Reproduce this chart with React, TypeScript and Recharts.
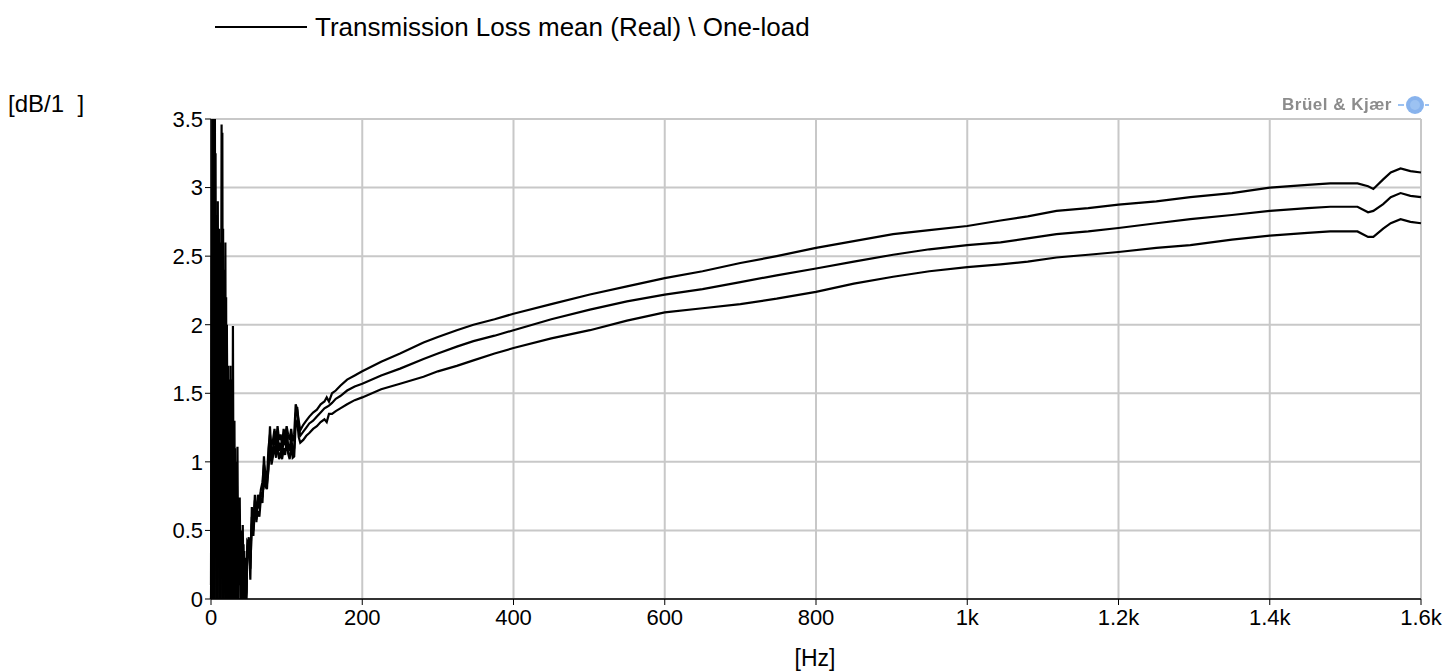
import { LineChart, Line, XAxis, YAxis, CartesianGrid } from "recharts"

const font = "'Liberation Sans', Arial, sans-serif"

// frequency axis [Hz]
const freqs = [
  0, 1, 2, 3, 4, 5, 6, 7, 8, 9, 10, 11, 12, 13, 14, 15, 16, 17, 18, 19, 20, 21, 22, 23, 24,
  25, 26, 27, 28, 29, 30, 31, 32, 33, 34, 35, 36, 37, 38, 39, 40, 41, 42, 43, 44, 45, 46, 47, 48,
  50, 52, 54, 56, 58, 60, 62, 64, 66, 68, 70, 72, 74, 76, 78, 80, 82, 84, 86, 88, 90, 92, 94, 96, 98,
  100, 102, 104, 106, 108, 110, 112, 114, 116, 118,
  122, 126, 130, 135, 140, 145, 150, 153, 156, 160, 165, 171, 180, 190, 200,
  225, 250, 281, 300, 325, 347, 375, 400, 450, 501, 550, 600, 650, 700, 748, 800, 850, 902, 950, 1000,
  1044, 1080, 1118, 1160, 1200, 1250, 1295, 1350, 1400, 1450, 1480, 1516, 1530, 1537, 1550, 1560, 1573, 1586, 1600,
]

// three measured traces [dB/1]
const upper = [
  0.0, 0.9, 4.2, 0.3, 4.0, 1.2, 3.25, 0.0, 2.8, 0.4, 2.6, 0.0, 2.2, 0.8, 3.46, 0.0, 2.7, 0.3, 2.4, 0.0, 1.8, 2.0, 0.1, 1.7, 0.0,
  1.4, 0.4, 1.6, 0.0, 1.99, 0.2, 1.3, 0.0, 0.9, 0.3, 1.11, 0.0, 0.6, 0.74, 0.1, 0.5, 0.0, 0.54, 0.05, 0.35, 0.0, 0.3, 0.0, 0.42,
  0.4, 0.3, 0.6, 0.55, 0.72, 0.62, 0.76, 0.7, 0.8, 0.85, 0.98, 0.92, 0.88, 1.1, 1.2, 1.12, 1.16, 1.24, 1.14, 1.26, 1.16, 1.2, 1.12, 1.24, 1.18,
  1.26, 1.2, 1.16, 1.24, 1.15, 1.2, 1.42, 1.38, 1.3, 1.23,
  1.27, 1.3, 1.33, 1.36, 1.38, 1.42, 1.44, 1.47, 1.44, 1.5, 1.52, 1.555, 1.6, 1.63, 1.66,
  1.73, 1.79, 1.87, 1.91, 1.96, 2.0, 2.04, 2.08, 2.15, 2.22, 2.28, 2.34, 2.39, 2.45, 2.5, 2.56, 2.61, 2.66, 2.69, 2.72,
  2.76, 2.79, 2.83, 2.85, 2.875, 2.9, 2.93, 2.96, 3.0, 3.02, 3.03, 3.03, 3.01, 2.99, 3.06, 3.11, 3.14, 3.12, 3.11,
]

const middle = [
  0.1, 2.5, 0.0, 3.9, 0.2, 4.1, 0.5, 2.6, 0.0, 2.9, 0.6, 2.7, 0.0, 2.5, 0.7, 3.4, 0.0, 2.3, 0.5, 2.6, 0.0, 1.9, 0.6, 0.0, 1.5,
  0.2, 1.7, 0.0, 1.2, 0.5, 1.0, 0.0, 1.1, 0.2, 0.8, 0.0, 0.7, 0.15, 0.6, 0.0, 0.45, 0.2, 0.0, 0.4, 0.0, 0.25, 0.0, 0.15, 0.38,
  0.45, 0.14, 0.67, 0.5, 0.76, 0.56, 0.72, 0.66, 0.78, 0.74, 1.04, 0.86, 0.8, 1.0, 1.26, 1.02, 1.1, 1.2, 1.1, 1.22, 1.08, 1.14, 1.04, 1.18, 1.12,
  1.24, 1.12, 1.08, 1.2, 1.06, 1.1, 1.35, 1.4, 1.25, 1.19,
  1.22, 1.25, 1.28, 1.3, 1.33, 1.36, 1.39, 1.4, 1.41, 1.43, 1.46, 1.48, 1.52, 1.55, 1.57,
  1.63, 1.68, 1.75, 1.79, 1.84, 1.88, 1.92, 1.96, 2.04, 2.11, 2.17, 2.22, 2.26, 2.31, 2.36, 2.41, 2.46, 2.51, 2.55, 2.58,
  2.6, 2.63, 2.66, 2.68, 2.705, 2.74, 2.77, 2.8, 2.83, 2.85, 2.86, 2.86, 2.82, 2.83, 2.88, 2.93, 2.96, 2.94, 2.93,
]

const lower = [
  0.0, 0.2, 3.0, 0.0, 2.7, 0.0, 2.9, 0.8, 2.2, 0.0, 2.4, 1.0, 2.6, 0.0, 2.1, 1.2, 2.5, 0.0, 1.9, 0.7, 2.2, 0.0, 1.5, 0.4, 1.6,
  0.0, 1.3, 0.6, 1.4, 0.0, 1.2, 0.5, 0.8, 0.0, 1.0, 0.4, 0.0, 0.5, 0.2, 0.45, 0.0, 0.35, 0.1, 0.0, 0.2, 0.1, 0.0, 0.05, 0.35,
  0.36, 0.22, 0.55, 0.46, 0.66, 0.58, 0.64, 0.6, 0.74, 0.7, 0.92, 0.82, 0.84, 0.94, 1.14, 0.98, 1.04, 1.12, 1.03, 1.14, 1.02, 1.06, 1.02, 1.1, 1.05,
  1.16, 1.06, 1.02, 1.12, 1.03, 1.04, 1.28, 1.3, 1.18, 1.14,
  1.16, 1.19, 1.21, 1.24, 1.26, 1.29, 1.31, 1.29, 1.35, 1.35, 1.37, 1.39, 1.42, 1.45, 1.47,
  1.53, 1.57, 1.62, 1.66, 1.7, 1.74, 1.79, 1.83, 1.9, 1.96, 2.03, 2.09, 2.12, 2.15, 2.19, 2.24, 2.3, 2.35, 2.39, 2.42,
  2.44, 2.46, 2.49, 2.51, 2.53, 2.56, 2.58, 2.62, 2.65, 2.67, 2.68, 2.68, 2.64, 2.64, 2.7, 2.74, 2.77, 2.75, 2.74,
]

const xTicks = [0, 200, 400, 600, 800, 1000, 1200, 1400, 1600]
const xTickLabels = ["0", "200", "400", "600", "800", "1k", "1.2k", "1.4k", "1.6k"]
const yTicks = [0, 0.5, 1, 1.5, 2, 2.5, 3, 3.5]
const yTickLabels = ["0", "0.5", "1", "1.5", "2", "2.5", "3", "3.5"]

const data = freqs.map((f, i) => ({ f, upper: upper[i], middle: middle[i], lower: lower[i] }))

const tick = { fill: "#000", fontFamily: font, fontSize: 22 }

export default function App() {
  return (
    <div style={{ position: "absolute", left: 0, top: 0, width: 1452, height: 672, background: "#fff", fontFamily: font }}>
      <LineChart width={1452} height={672} data={data} margin={{ top: 119, right: 31, bottom: 33, left: 151 }}>
        <CartesianGrid stroke="#c8c8c8" strokeWidth={2} />
        <XAxis
          dataKey="f"
          type="number"
          domain={[0, 1600]}
          ticks={xTicks}
          tickFormatter={(v) => xTickLabels[xTicks.indexOf(v)]}
          tick={tick}
          tickSize={6}
          tickMargin={4}
          height={40}
          axisLine={{ stroke: "#000", strokeWidth: 1.5 }}
          tickLine={{ stroke: "#000" }}
          interval={0}
        />
        <YAxis
          type="number"
          domain={[0, 3.5]}
          allowDataOverflow
          ticks={yTicks}
          tickFormatter={(v) => yTickLabels[yTicks.indexOf(v)]}
          tick={tick}
          tickSize={6}
          tickMargin={2}
          width={60}
          axisLine={{ stroke: "#000", strokeWidth: 1.5 }}
          tickLine={{ stroke: "#000" }}
          interval={0}
        />
        <Line dataKey="upper" stroke="#000" strokeWidth={2.2} dot={false} isAnimationActive={false} legendType="none" />
        <Line dataKey="middle" stroke="#000" strokeWidth={2.2} dot={false} isAnimationActive={false} legendType="none" />
        <Line dataKey="lower" stroke="#000" strokeWidth={2.2} dot={false} isAnimationActive={false} legendType="none" />
      </LineChart>

      {/* legend */}
      <div style={{ position: "absolute", left: 215, top: 12, display: "flex", alignItems: "center", height: 30 }}>
        <svg width={92} height={4} style={{ marginRight: 8 }}>
          <line x1={0} y1={2} x2={92} y2={2} stroke="#000" strokeWidth={2} />
        </svg>
        <span style={{ fontSize: 26, color: "#000", whiteSpace: "nowrap" }}>Transmission Loss mean (Real) \ One-load</span>
      </div>

      <div style={{ position: "absolute", left: 8, top: 90, fontSize: 24, whiteSpace: "pre" }}>[dB/1  ]</div>
      <div style={{ position: "absolute", left: 765, width: 100, textAlign: "center", top: 645, fontSize: 23 }}>[Hz]</div>

      {/* logo */}
      <div style={{ position: "absolute", left: 1282, top: 94, display: "flex", alignItems: "center" }}>
        <span style={{ fontSize: 17, fontWeight: "bold", color: "#8c8c8c", letterSpacing: 0.5, filter: "blur(0.4px)" }}>Brüel &amp; Kjær</span>
        <svg width={34} height={22} style={{ marginLeft: 4 }}>
          <ellipse cx={19} cy={11} rx={9} ry={9} fill="#6aa0e8" opacity={0.8} />
          <ellipse cx={19} cy={11} rx={5} ry={5} fill="#9cc2f2" />
          <rect x={2} y={10} width={6} height={2} fill="#9cc2f2" />
          <rect x={29} y={10} width={4} height={2} fill="#9cc2f2" />
        </svg>
      </div>
    </div>
  )
}
